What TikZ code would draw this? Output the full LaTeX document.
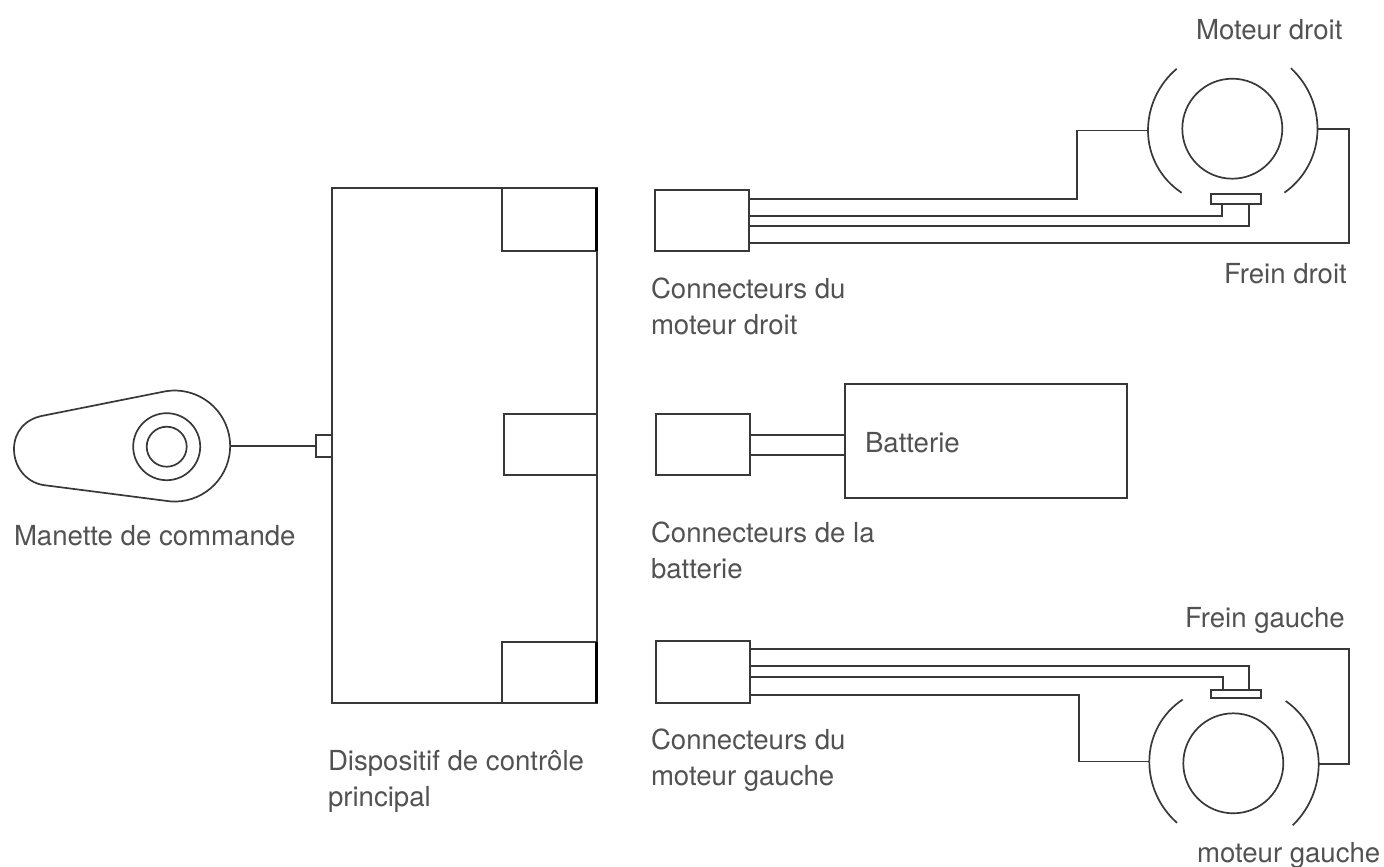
\documentclass[tikz,border=0pt]{standalone}
\usepackage{fontspec}
\setmainfont{TeX Gyre Heros}
\tikzset{
 ln/.style={draw=black!78,line width=1.7pt,line join=miter,outer sep=0pt},
 lbl/.style={anchor=base west,inner sep=0pt,outer sep=0pt,font=\fontsize{27.6}{36}\selectfont,text=black!68,align=left},
}
\begin{document}
\begin{tikzpicture}[x=1pt,y=-1pt]
\useasboundingbox (0,0) rectangle (1384,867);
% main device
\node[ln,anchor=north west,minimum width=265pt,minimum height=515pt,inner sep=0pt] (dev) at (332.3,188.3) {};
\node[ln,anchor=north west,minimum width=94.7pt,minimum height=62.7pt,inner sep=0pt] (p1) at (502.3,188.3) {};
\draw[draw=black,line width=3pt] (p1.north east) ++(-1,0) -- ++(0,62.7);
\node[ln,anchor=north west,minimum width=93.6pt,minimum height=61pt,inner sep=0pt] (p2) at (503.7,414.3) {};
\node[ln,anchor=north west,minimum width=95pt,minimum height=61pt,inner sep=0pt] (p3) at (502.3,642.3) {};
\draw[draw=black,line width=2.6pt] (p3.north east) ++(-1,0) -- ++(0,61);
% handle
\draw[ln] (43,415.7) .. controls (25,419) and (14,432) .. (14,449)
  .. controls (14,467) and (26,482) .. (43,485) -- (165,500.7)
  arc[start angle=100,end angle=-100,radius=55.5] -- cycle;
\node[ln,circle,minimum size=67pt,inner sep=0pt] (h1) at (166.7,446.7) {};
\node[ln,circle,minimum size=40pt,inner sep=0pt] (h2) at (166.7,446.7) {};
\node[ln,anchor=north west,minimum width=16.5pt,minimum height=22pt,inner sep=0pt] (port) at (316,435) {};
\coordinate (hr) at (230.5,446);
\draw[ln] (hr) -- (port.west);
% right motor
\node[ln,anchor=north west,minimum width=93.7pt,minimum height=61pt,inner sep=0pt] (cr) at (655,190.3) {};
\node[ln,circle,minimum size=100pt,inner sep=0pt] (mr) at (1232.3,128.7) {};
\node[ln,anchor=north west,minimum width=49.7pt,minimum height=10.6pt,inner sep=0pt] (br) at (1211.3,193.7) {};
\coordinate (ral) at (1148,130.5);
\coordinate (rar) at (1317.5,129);
\draw[ln] (ral) arc[start angle=180,end angle=229.9,radius=80.7];
\draw[ln] (ral) arc[start angle=180,end angle=123.2,radius=74.4];
\draw[ln] (rar) arc[start angle=0,end angle=-47.2,radius=82.8];
\draw[ln] (rar) arc[start angle=0,end angle=55,radius=77.7];
\draw[ln] (cr.east |- 0,199) -| (1077.3,130.5) -- (ral);
\draw[ln] (cr.east |- 0,215.7) -| (br.south -| 1222,0);
\draw[ln] (cr.east |- 0,226) -| (br.south -| 1249,0);
\draw[ln] (cr.east |- 0,243) -| (1349,129) -- (rar);
% battery
\node[ln,anchor=north west,minimum width=94pt,minimum height=61pt,inner sep=0pt] (cb) at (656.3,414.3) {};
\node[ln,anchor=north west,minimum width=282pt,minimum height=113.7pt,inner sep=0pt] (bat) at (845,384) {};
\draw[ln] (cb.east |- 0,435) -- (bat.west |- 0,435);
\draw[ln] (cb.east |- 0,455.3) -- (bat.west |- 0,455.3);
% left motor
\node[ln,anchor=north west,minimum width=94pt,minimum height=62.6pt,inner sep=0pt] (cl) at (656.3,640.7) {};
\node[ln,circle,minimum size=100pt,inner sep=0pt] (ml) at (1233.3,763.3) {};
\node[ln,anchor=north west,minimum width=49.7pt,minimum height=8.3pt,inner sep=0pt] (bl) at (1211.3,690) {};
\coordinate (lal) at (1149.3,761.5);
\coordinate (lar) at (1318.7,764);
\draw[ln] (lal) arc[start angle=180,end angle=236.6,radius=74.2];
\draw[ln] (lal) arc[start angle=180,end angle=131.4,radius=81.7];
\draw[ln] (lar) arc[start angle=0,end angle=-55.3,radius=76.6];
\draw[ln] (lar) arc[start angle=0,end angle=46,radius=85.3];
\draw[ln] (cl.east |- 0,649.3) -| (1349,764) -- (lar);
\draw[ln] (cl.east |- 0,666) -| (bl.north -| 1249,0);
\draw[ln] (cl.east |- 0,676.7) -| (bl.north -| 1223.3,0);
\draw[ln] (cl.east |- 0,695.3) -| (1079.3,761.5) -- (lal);
% labels
\node[lbl] (t1) at (1196,40) {Moteur droit};
\node[lbl] (t2) at (1224,283) {Frein droit};
\node[lbl] (t3) at (651,334) {Connecteurs du\\moteur droit};
\node[lbl] (t4) at (865,452) {Batterie};
\node[lbl] (t5) at (14,545) {Manette de commande};
\node[lbl] (t6) at (651,578) {Connecteurs de la\\batterie};
\node[lbl] (t7) at (1185,627) {Frein gauche};
\node[lbl] (t8) at (651,785) {Connecteurs du\\moteur gauche};
\node[lbl] (t9) at (328,806) {Dispositif de contrôle\\principal};
\node[lbl] (t10) at (1197,862) {moteur gauche};
\end{tikzpicture}
\end{document}
